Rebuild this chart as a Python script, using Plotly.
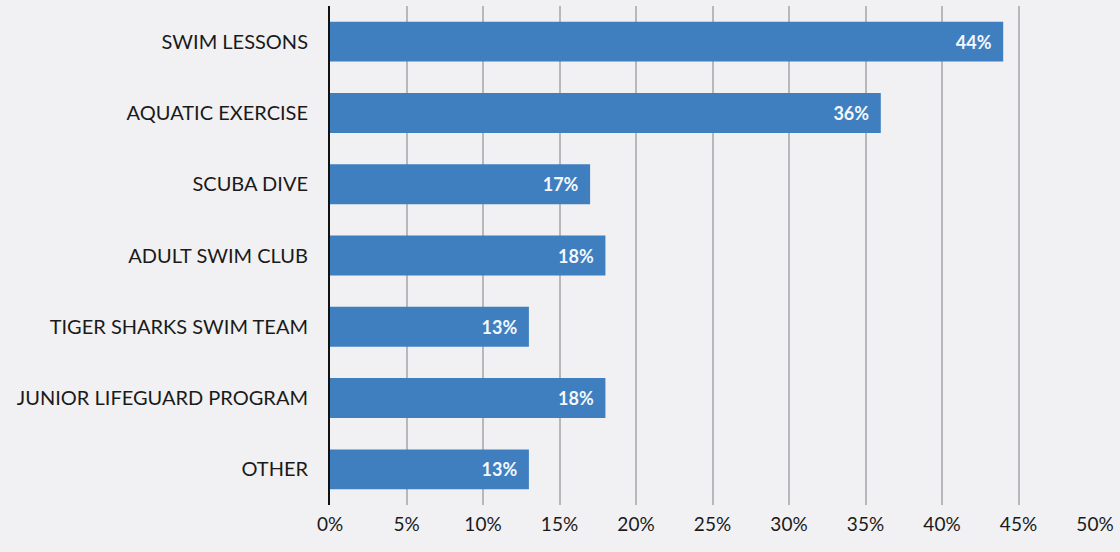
import plotly.graph_objects as go

programs = [
    "SWIM LESSONS",
    "AQUATIC EXERCISE",
    "SCUBA DIVE",
    "ADULT SWIM CLUB",
    "TIGER SHARKS SWIM TEAM",
    "JUNIOR LIFEGUARD PROGRAM",
    "OTHER",
]
shares = [44, 36, 17, 18, 13, 18, 13]
x_ticks = [0, 5, 10, 15, 20, 25, 30, 35, 40, 45, 50]
x_tick_labels = [f"{v}%" for v in x_ticks]

# value labels sit inside the bar end, with a little breathing room on the right
bar_labels = [f"{v}%\u00a0\u00a0" for v in shares]

fig = go.Figure(
    go.Bar(
        y=programs,
        x=shares,
        orientation="h",
        marker=dict(color="#3f7fc0", line=dict(width=0)),
        text=bar_labels,
        textposition="inside",
        insidetextanchor="end",
        textfont=dict(family="Lato", size=18, color="#f4f7fb", weight="bold"),
        hoverinfo="skip",
    )
)

fig.update_layout(
    width=1120,
    height=552,
    margin=dict(l=330, r=25, t=6, b=47),
    paper_bgcolor="#f1f1f3",
    plot_bgcolor="#f1f1f3",
    bargap=0.44,
    showlegend=False,
    font=dict(family="Lato", color="#1a1a1a"),
)

fig.update_xaxes(
    range=[0, 50],
    tickvals=x_ticks,
    ticktext=x_tick_labels,
    tickfont=dict(size=19, color="#1a1a1a"),
    showgrid=True,
    gridcolor="#b8b8bc",
    gridwidth=1.5,
    zeroline=False,
    showline=False,
    ticklabelstandoff=6,
    fixedrange=True,
)

fig.update_yaxes(
    categoryorder="array",
    categoryarray=programs[::-1],
    tickfont=dict(size=20, color="#1a1a1a"),
    showline=True,
    linecolor="#111111",
    linewidth=2,
    showgrid=False,
    ticks="",
    ticklabelstandoff=16,
    fixedrange=True,
)

fig.write_html("out.html")
